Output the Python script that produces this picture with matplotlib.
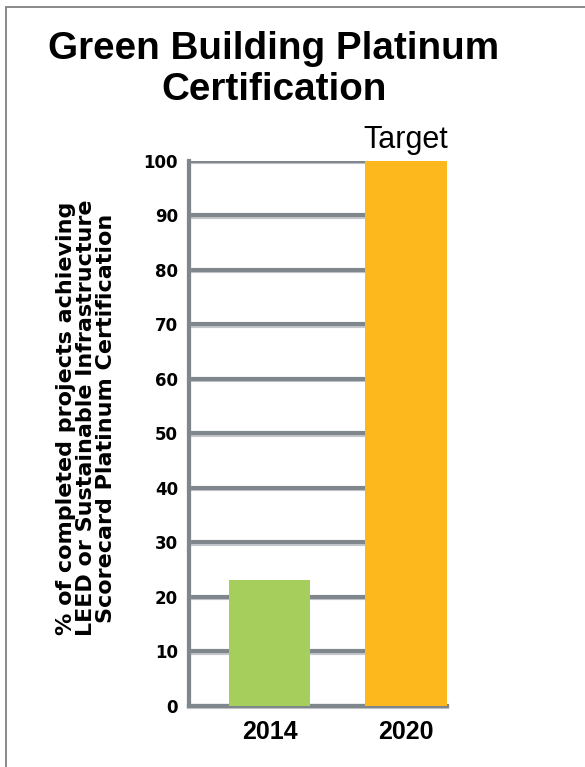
import matplotlib
import matplotlib.pyplot as plt
import matplotlib.patheffects as pe
from matplotlib.patches import Rectangle

matplotlib.use('agg')

plt.rcParams['font.family'] = ['Liberation Sans', 'DejaVu Sans']

years = ['2014', '2020']
values = [23, 100]
colors = ['#a5ce5d', '#fdb81e']
y_ticks = [0, 10, 20, 30, 40, 50, 60, 70, 80, 90, 100]
title = 'Green Building Platinum\nCertification'
y_label = ('% of completed projects achieving\n'
           'LEED or Sustainable Infrastructure\n'
           'Scorecard Platinum Certification')
note = 'Target'

grid_color = '#7f878d'

fig = plt.figure(figsize=(5.85, 7.67), dpi=100)
ax = fig.add_axes([189 / 585, 1 - 705.7 / 767, (447 - 189) / 585, (705.7 - 160.5) / 767])

x = list(range(len(years)))
ax.bar(x, values, width=0.6, color=colors, zorder=3)

ax.set_xlim(-0.59, 1.3)
ax.set_ylim(0, 100)
ax.set_yticks(y_ticks)
ax.set_xticks(x)
ax.set_xticklabels(years)

shadow = [pe.SimpleLineShadow(offset=(0, -1.2), shadow_color='#c4c8cc', alpha=1), pe.Normal()]
ax.set_axisbelow(True)
ax.yaxis.grid(True, color=grid_color, linewidth=3.0, path_effects=shadow)
ax.xaxis.grid(False)

for side in ['top', 'right']:
    ax.spines[side].set_visible(False)
for side in ['left', 'bottom']:
    ax.spines[side].set_color(grid_color)
    ax.spines[side].set_linewidth(3.0)
    ax.spines[side].set_path_effects(shadow)

ax.tick_params(axis='y', length=0, pad=8)
ax.tick_params(axis='x', length=0, pad=10, labelsize=18)
for lbl in ax.get_yticklabels():
    lbl.set_fontweight('bold')
    lbl.set_fontfamily('DejaVu Sans')
    lbl.set_fontsize(12)
for lbl in ax.get_xticklabels():
    lbl.set_fontweight('bold')

# "Target" note over the 2020 bar
ax.annotate(note, xy=(1, values[1]), xytext=(0, 4), textcoords='offset points',
            ha='center', va='bottom', fontsize=22)

fig.text(274 / 585, 1 - 31 / 767, title, ha='center', va='top',
         fontsize=27.8, fontweight='bold', linespacing=1.17)
fig.text(86 / 585, 1 - 418 / 767, y_label, ha='center', va='center',
         rotation=90, fontsize=16, fontweight='bold', linespacing=1.02,
         family='DejaVu Sans')

# frame on top and left
fig.patches.append(Rectangle((6 / 585, -0.1), 1.2, 1.1 - 7 / 767, transform=fig.transFigure,
                             fill=False, edgecolor='#808080', linewidth=1.3))

fig.savefig('out.png', dpi=100)
plt.close()
